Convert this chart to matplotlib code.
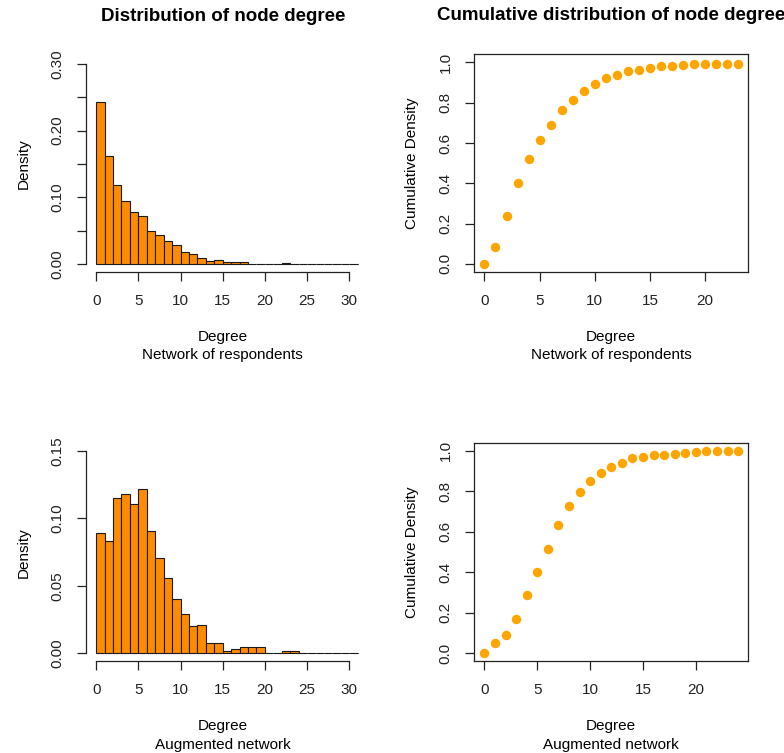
import numpy as np
import matplotlib.pyplot as plt

plt.rcParams['font.family'] = ['Liberation Sans', 'DejaVu Sans']

# histogram densities, unit-width bins starting at 0
dens_resp = [0.243, 0.1625, 0.119, 0.095, 0.078, 0.072, 0.0495, 0.0435, 0.0345, 0.0284,
             0.018, 0.016, 0.010, 0.005, 0.007, 0.003, 0.003, 0.004, 0.001, 0, 0, 0,
             0.0012, 0, 0, 0, 0, 0, 0, 0, 0, 0]
dens_aug = [0.089, 0.083, 0.115, 0.118, 0.111, 0.122, 0.091, 0.071, 0.056, 0.040,
            0.029, 0.020, 0.021, 0.008, 0.008, 0.0015, 0.0035, 0.005, 0.005, 0.005,
            0, 0, 0.0015, 0.0015, 0, 0, 0, 0, 0, 0, 0, 0]

# cumulative densities by degree
cum_resp = [0.0, 0.082, 0.24, 0.40, 0.52, 0.614, 0.691, 0.764, 0.814, 0.858, 0.892, 0.920,
            0.938, 0.956, 0.964, 0.972, 0.980, 0.982, 0.987, 0.991, 0.993, 0.993, 0.993, 0.993]
cum_aug = [0.0, 0.051, 0.089, 0.171, 0.286, 0.402, 0.514, 0.635, 0.726, 0.795, 0.852, 0.892,
           0.921, 0.941, 0.964, 0.970, 0.979, 0.979, 0.984, 0.989, 0.993, 0.997, 0.997, 0.997, 0.997]

subs = ["Network of respondents", "Augmented network"]
FS = 11
TFS = 13.5
W, H = 784, 753

fig = plt.figure(figsize=(7.84, 7.53), dpi=100)


def rect(x0, y0, x1, y1):
    return [x0 / W, 1 - y1 / H, (x1 - x0) / W, (y1 - y0) / H]


def r_axis(ax):
    ax.tick_params(direction='out', length=6.5, width=0.9, labelsize=FS, colors='#222222', pad=9)
    for lab in ax.get_yticklabels():
        lab.set_rotation(90)
        lab.set_va('center')


def labels(ax, ylab, sub, title):
    ax.set_ylabel(ylab, fontsize=FS, labelpad=14)
    ax.set_xlabel("Degree\n" + sub, fontsize=FS, labelpad=16, linespacing=1.4)
    if title:
        ax.set_title(title, fontsize=TFS, fontweight='bold', pad=25)


def hist_panel(pos, dens, ymax, yticks, ylabels, sub, title=None):
    ax = fig.add_axes(pos)
    edges = np.arange(len(dens))
    ax.bar(edges, dens, width=1, align='edge', color='#ff8c00', edgecolor='#1a1a1a', linewidth=0.8)
    ax.set_xlim(-1.2, 31.2)
    ax.set_ylim(-0.04 * ymax, 1.04 * ymax)
    for s in ['top', 'right']:
        ax.spines[s].set_visible(False)
    ax.spines['bottom'].set_bounds(0, 30)
    ax.spines['left'].set_bounds(0, ymax)
    for s in ['bottom', 'left']:
        ax.spines[s].set_color('#222222')
        ax.spines[s].set_linewidth(0.9)
    ax.set_xticks(np.arange(0, 31, 5))
    ax.set_yticks(yticks)
    ax.set_yticklabels(ylabels)
    r_axis(ax)
    labels(ax, "Density", sub, title)
    return ax


def cum_panel(pos, cum, sub, title=None):
    ax = fig.add_axes(pos)
    deg = np.arange(len(cum))
    n = len(cum) - 1
    ax.plot(deg, cum, 'o', color='#ffa500', markersize=6.8, markeredgewidth=0)
    ax.set_xlim(-0.04 * n, n * 1.04)
    ax.set_ylim(-0.04, 1.04)
    for s in ax.spines.values():
        s.set_color('#222222')
        s.set_linewidth(0.9)
    ax.set_xticks(np.arange(0, 21, 5))
    ax.set_yticks(np.arange(0, 1.01, 0.2))
    ax.set_yticklabels(["0.0", "0.2", "0.4", "0.6", "0.8", "1.0"])
    r_axis(ax)
    labels(ax, "Cumulative Density", sub, title)
    return ax


hist_panel(rect(86, 55.7, 359.4, 272.3), dens_resp, 0.30, np.arange(0, 0.31, 0.05),
           ["0.00", "", "0.10", "", "0.20", "", "0.30"], subs[0], "Distribution of node degree")
cum_panel(rect(474.3, 54.3, 748.3, 272), cum_resp, subs[0], "Cumulative distribution of node degree")
hist_panel(rect(86, 443, 359.4, 661.4), dens_aug, 0.15, np.arange(0, 0.151, 0.05),
           ["0.00", "0.05", "0.10", "0.15"], subs[1])
cum_panel(rect(474.3, 442.7, 748.3, 661.4), cum_aug, subs[1])

fig.savefig("out.png", dpi=100)
